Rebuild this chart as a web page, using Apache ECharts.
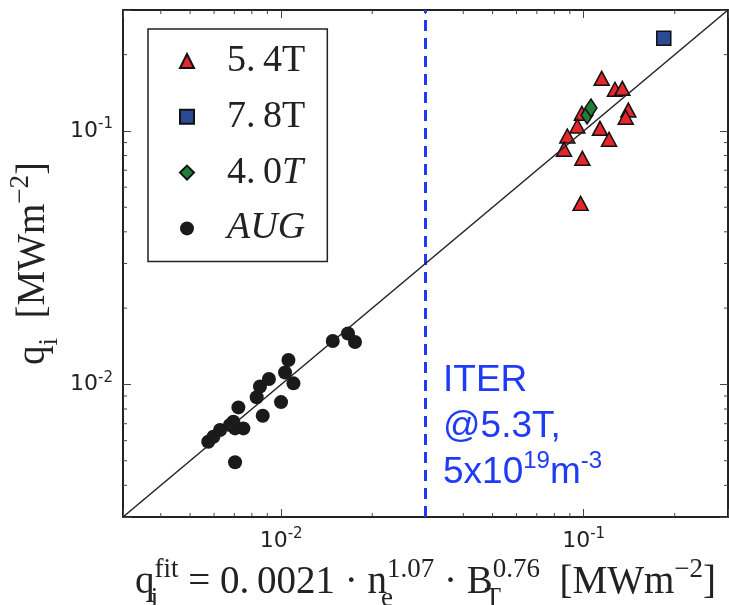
<!DOCTYPE html>
<html>
<head>
<meta charset="utf-8">
<script src="https://cdn.jsdelivr.net/npm/echarts@6/dist/echarts.min.js"></script>
<style>
html, body { margin: 0; padding: 0; background: #fff; }
#chart { width: 729px; height: 605px; }
</style>
</head>
<body>
<div id="chart"></div>
<script>
// values: [q_fit, q_i] in MW/m^2
var aug = [
  [0.00574, 0.00594], [0.00597, 0.00622], [0.00628, 0.00661], [0.00677, 0.00692],
  [0.00695, 0.00713], [0.00704, 0.00671], [0.00750, 0.00671], [0.00722, 0.00812],
  [0.00704, 0.00493], [0.00869, 0.00753], [0.00830, 0.00890], [0.00851, 0.00982],
  [0.00911, 0.01051], [0.00999, 0.00852], [0.01030, 0.01114], [0.01057, 0.01248],
  [0.01098, 0.01010], [0.01481, 0.01484], [0.01663, 0.01589], [0.01754, 0.01470]
];
var t54 = [
  [0.1147, 0.1613], [0.1269, 0.1460], [0.1342, 0.1473], [0.0986, 0.1174],
  [0.1405, 0.1209], [0.1377, 0.1132], [0.0953, 0.1046], [0.1132, 0.1024],
  [0.0883, 0.0955], [0.1213, 0.0927], [0.0861, 0.0847], [0.0990, 0.0780],
  [0.0977, 0.0518]
];
var t78 = [[0.184, 0.232]];
var t40 = [[0.1026, 0.1156], [0.1057, 0.1232]];
var fitLine = [[0.003, 0.003], [0.3, 0.3]];
var iterX = 0.0313;

var axisMin = 0.003, axisMax = 0.3;
var minorTicks = [0.004, 0.005, 0.006, 0.007, 0.008, 0.009,
  0.02, 0.03, 0.04, 0.05, 0.06, 0.07, 0.08, 0.09, 0.2];

var legendNames = ['5.4T', '7.8T', '4.0T', 'AUG'];
var legendIcons = ['triangle', 'rect', 'diamond', 'circle'];

var serif = 'Liberation Serif';
var ink = '#222';
var blue = '#1f3cf4';

// 0.01 -> 10^-2, nothing between the decades
function powLabel(v) {
  var e = Math.log10(v);
  if (Math.abs(e - Math.round(e)) > 1e-6) return '';
  return '{b|10}{s|' + Math.round(e) + '}';
}

var tickRich = {
  b: { fontFamily: 'DejaVu Sans', fontSize: 22, lineHeight: 28, color: ink },
  s: { fontFamily: 'DejaVu Sans', fontSize: 15, lineHeight: 16, verticalAlign: 'top', color: ink }
};
// m: main text, b: subscript stacked under the following superscript p, c: plain subscript
var nameRich = {
  m: { fontFamily: serif, fontSize: 39, lineHeight: 58, color: ink },
  b: { fontFamily: serif, fontSize: 27, lineHeight: 28, verticalAlign: 'bottom', width: 0, color: ink },
  c: { fontFamily: serif, fontSize: 27, lineHeight: 28, verticalAlign: 'bottom', color: ink },
  p: { fontFamily: serif, fontSize: 27, lineHeight: 28, verticalAlign: 'top', padding: [2, 0, 0, 0], color: ink }
};

function logAxis(extra) {
  var base = {
    type: 'log', logBase: 10, min: axisMin, max: axisMax,
    splitLine: { show: false },
    axisLine: { show: true, onZero: false, lineStyle: { color: ink, width: 2 } },
    axisTick: { show: true, inside: true, length: 8, lineStyle: { color: '#444', width: 1 } },
    axisLabel: { show: false },
    nameMoveOverlap: false
  };
  return Object.assign(base, extra);
}

// minor ticks on all four sides of the frame
function minorTick(params, api) {
  var v = api.value(0);
  var p = api.coord([v, v]);
  var cs = params.coordSys;
  var L = 4;
  var st = { stroke: '#444', lineWidth: 1 };
  var bottom = cs.y + cs.height, right = cs.x + cs.width;
  return {
    type: 'group',
    children: [
      { type: 'line', shape: { x1: p[0], y1: bottom, x2: p[0], y2: bottom - L }, style: st },
      { type: 'line', shape: { x1: p[0], y1: cs.y, x2: p[0], y2: cs.y + L }, style: st },
      { type: 'line', shape: { x1: cs.x, y1: p[1], x2: cs.x + L, y2: p[1] }, style: st },
      { type: 'line', shape: { x1: right, y1: p[1], x2: right - L, y2: p[1] }, style: st }
    ]
  };
}

function legendLabel(name) {
  if (name === '4.0T') return '{g| }{r|4.\u20090}{i|T}';
  if (name === 'AUG') return '{g| }{i|AUG}';
  return '{g| }{r|' + name.replace('.', '.\u2009') + '}';
}

var tickLabel = {
  show: true, formatter: powLabel, margin: 10, rich: tickRich,
  fontFamily: 'DejaVu Sans', fontSize: 22, color: ink
};

var chart = echarts.init(document.getElementById('chart'));
chart.setOption({
  animation: false,
  grid: { left: 123, right: 1, top: 10, bottom: 88, outerBoundsMode: 'none' },
  legend: {
    orient: 'vertical', left: 148, top: 29,
    data: legendNames.map(function (n, i) { return { name: n, icon: legendIcons[i] }; }),
    itemWidth: 14, itemHeight: 14, itemGap: 17.8,
    padding: [13, 22, 14, 31],
    borderColor: ink, borderWidth: 1.5, borderRadius: 0, backgroundColor: '#fff',
    formatter: legendLabel,
    textStyle: {
      fontFamily: serif, fontSize: 38, color: ink,
      rich: {
        g: { width: 28 },
        r: { fontFamily: serif, fontSize: 38, lineHeight: 40, color: ink },
        i: { fontFamily: serif, fontSize: 38, lineHeight: 40, fontStyle: 'italic', color: ink }
      }
    }
  },
  xAxis: [
    logAxis({
      position: 'bottom',
      axisLabel: tickLabel,
      name: '{m|q}{b|i}{p|fit}{m| = 0.\u20090021 \u00b7 n}{b|e}{p|1.07}{m| \u00b7 B}{b|T}{p|0.76}{m|  [MWm}{p|\u22122}{m|]}',
      nameLocation: 'middle', nameGap: 37,
      nameTextStyle: { fontFamily: serif, fontSize: 39, color: ink, rich: nameRich }
    }),
    logAxis({ position: 'top' })
  ],
  yAxis: [
    logAxis({
      position: 'left',
      axisLabel: tickLabel,
      name: '{m|q}{c|i}{m|  [MWm}{p|\u22122}{m|]}',
      nameLocation: 'middle', nameGap: 60, nameRotate: 90,
      nameTextStyle: { fontFamily: serif, fontSize: 39, color: ink, rich: nameRich }
    }),
    logAxis({ position: 'right' })
  ],
  graphic: [{
    type: 'text', left: 443, top: 362, z: 10,
    style: {
      text: '{a|ITER}\n{a|@5.3T,}\n{a|5x10}{s|19}{a|m}{s|-3}',
      rich: {
        a: { fontFamily: 'Liberation Sans', fontSize: 37, lineHeight: 46, fill: blue },
        s: { fontFamily: 'Liberation Sans', fontSize: 24, lineHeight: 30, verticalAlign: 'top', fill: blue }
      }
    }
  }],
  series: [
    {
      type: 'custom', silent: true, z: 1,
      data: minorTicks.map(function (v) { return [v, v]; }),
      renderItem: minorTick
    },
    {
      name: 'AUG', type: 'scatter', data: aug,
      symbol: 'circle', symbolSize: 14,
      itemStyle: { color: '#1a1a1a', borderColor: '#1a1a1a', borderWidth: 0, opacity: 1 }
    },
    {
      name: '5.4T', type: 'scatter', data: t54,
      symbol: 'triangle', symbolSize: [15, 14],
      itemStyle: { color: '#e3272b', borderColor: '#111', borderWidth: 1.5, opacity: 1 }
    },
    {
      name: '4.0T', type: 'scatter', data: t40,
      symbol: 'diamond', symbolSize: [12, 18],
      itemStyle: { color: '#1f7e3a', borderColor: '#111', borderWidth: 1.5, opacity: 1 }
    },
    {
      name: '7.8T', type: 'scatter', data: t78,
      symbol: 'rect', symbolSize: 14,
      itemStyle: { color: '#2b4a96', borderColor: '#111', borderWidth: 1.5, opacity: 1 }
    },
    {
      type: 'line', data: fitLine, z: 5, silent: true,
      symbol: 'none',
      lineStyle: { color: ink, width: 1.5 },
      markLine: {
        silent: true, symbol: ['none', 'none'],
        label: { show: false },
        lineStyle: { color: blue, width: 3, type: [11, 7] },
        data: [{ xAxis: iterX }]
      }
    }
  ]
});
</script>
</body>
</html>
